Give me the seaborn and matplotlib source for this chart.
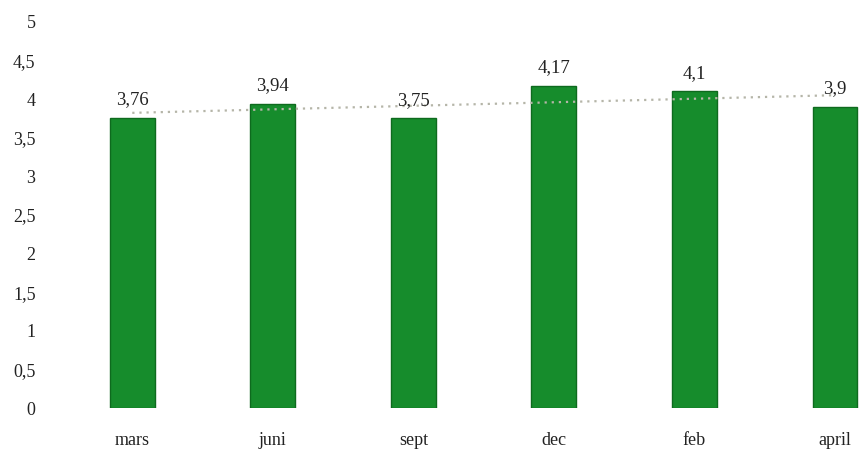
import matplotlib
matplotlib.use("Agg")
import matplotlib.pyplot as plt
import seaborn as sns
import pandas as pd
import numpy as np
from matplotlib.ticker import FuncFormatter, MultipleLocator

categories = ["mars", "juni", "sept", "dec", "feb", "april"]
values = [3.76, 3.94, 3.75, 4.17, 4.1, 3.9]
value_labels = ["3,76", "3,94", "3,75", "4,17", "4,1", "3,9"]

df = pd.DataFrame({"month": categories, "value": values, "pos": np.arange(len(categories))})

sns.set_style("white")
plt.rcParams["font.family"] = ["Liberation Serif", "DejaVu Serif"]

fig = plt.figure(figsize=(8.61, 4.5), dpi=100)
ax = fig.add_axes([0.072, 0.0933, 0.928, 0.858])

sns.barplot(data=df, x="month", y="value", color="#168c2c", width=0.32,
            edgecolor="#0e6a1e", linewidth=1.0, saturation=1, ax=ax)

sns.regplot(data=df, x="pos", y="value", scatter=False, ci=None, truncate=True,
            line_kws={"color": "#b5b5a8", "linestyle": (0, (1, 2.2)), "linewidth": 1.6},
            ax=ax)

for i, (v, lab) in enumerate(zip(values, value_labels)):
    ax.annotate(lab, (i, v), xytext=(0, 7), textcoords="offset points",
                ha="center", va="bottom", fontsize=13.5, color="#222222")

ax.set_ylim(0, 5)
ax.set_xlim(-0.5, 5.185)
ax.yaxis.set_major_locator(MultipleLocator(0.5))
ax.yaxis.set_major_formatter(FuncFormatter(lambda v, p: f"{v:g}".replace(".", ",")))
ax.set_xlabel("")
ax.set_ylabel("")
ax.tick_params(axis="y", length=0, pad=19, labelsize=13, labelcolor="#222222")
ax.tick_params(axis="x", length=0, pad=17, labelsize=13, labelcolor="#222222")
for s in ax.spines.values():
    s.set_visible(False)
ax.grid(False)

fig.savefig("out.png", dpi=100)
